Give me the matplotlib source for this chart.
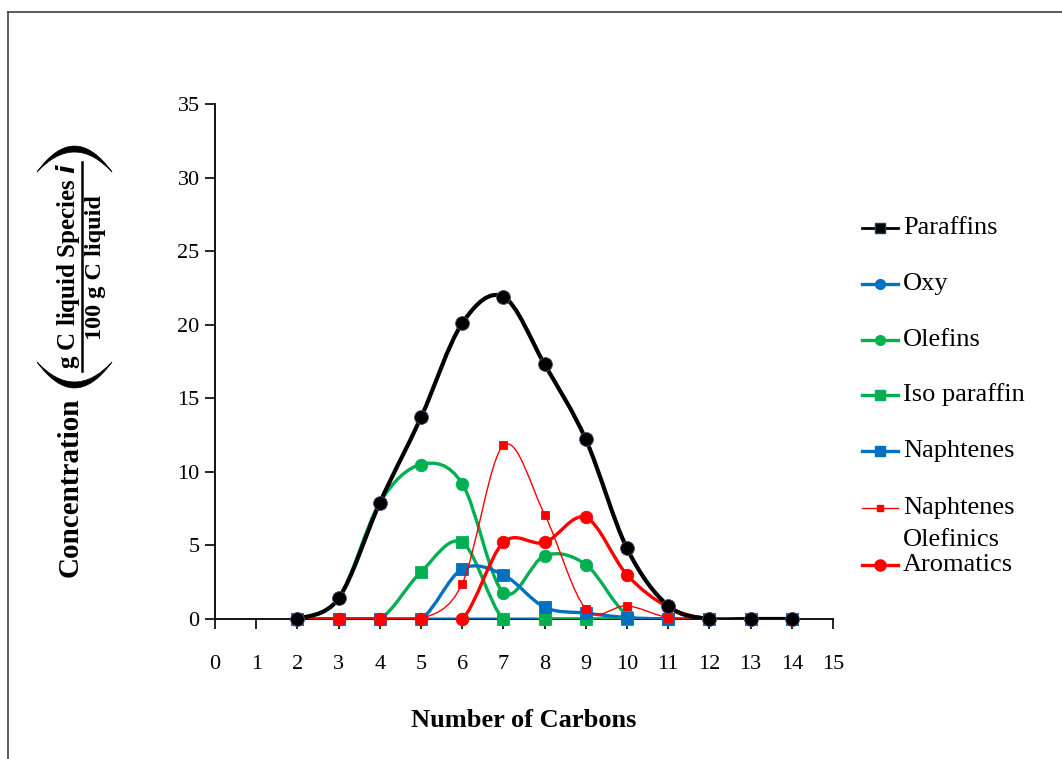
import numpy as np
import matplotlib
matplotlib.use("Agg")
import matplotlib.pyplot as plt
from matplotlib.path import Path
from matplotlib.patches import PathPatch
from matplotlib.lines import Line2D

plt.rcParams["font.family"] = ["Liberation Serif", "DejaVu Serif"]

# carbon number
carbons = [2, 3, 4, 5, 6, 7, 8, 9, 10, 11, 12, 13, 14]

paraffins = [0, 1.4, 7.9, 13.7, 20.1, 21.9, 17.3, 12.2, 4.8, 0.9, 0, 0, 0]
oxy = [0, 0, 0, 0, 0, 0, 0, 0, 0, 0, 0, 0, 0]
olefins = [0, 1.4, 7.9, 10.5, 9.2, 1.8, 4.3, 3.7, 0.3, 0, 0, 0, 0]
isoparaffin = [0, 0, 0, 3.2, 5.2, 0, 0, 0, 0, 0, 0, 0, 0]
naphtenes = [0, 0, 0, 0, 3.4, 3.0, 0.8, 0.4, 0.1, 0, 0, 0, 0]
naph_olefinics = [0, 0, 0, 0, 2.4, 11.8, 7.1, 0.7, 0.9, 0.1, 0, 0, 0]
aromatics = [0, 0, 0, 0, 0, 5.2, 5.2, 6.9, 3.0, 0.8, 0, 0, 0]

x_ticks = list(range(0, 16))
y_ticks = [0, 5, 10, 15, 20, 25, 30, 35]

BLACK = "#000000"
GREEN = "#00B050"
BLUE = "#0070C0"
RED = "#FF0000"


def smooth_path(xs, ys):
    # excel style smoothed line: catmull-rom segments as cubic beziers
    pts = np.column_stack([xs, ys]).astype(float)
    n = len(pts)
    verts = [pts[0]]
    codes = [Path.MOVETO]
    for i in range(n - 1):
        p0 = pts[max(i - 1, 0)]
        p1 = pts[i]
        p2 = pts[i + 1]
        p3 = pts[min(i + 2, n - 1)]
        c1 = p1 + (p2 - p0) / 6.0
        c2 = p2 - (p3 - p1) / 6.0
        verts += [c1, c2, p2]
        codes += [Path.CURVE4] * 3
    return Path(verts, codes)


fig = plt.figure(figsize=(10.62, 7.59), dpi=100)
ax = fig.add_axes([215 / 1062, 1 - 619 / 759, 618 / 1062, 515 / 759])

series = [
    ("Oxy", oxy, BLUE, "o", 9, 2.2, "#9BBB59"),
    ("Olefins", olefins, GREEN, "o", 9, 2.4, GREEN),
    ("Iso paraffin", isoparaffin, GREEN, "s", 8.5, 2.4, GREEN),
    ("Naphtenes", naphtenes, BLUE, "s", 8.5, 2.4, BLUE),
    ("Naphtenes\nOlefinics", naph_olefinics, RED, "s", 6, 1.0, RED),
    ("Aromatics", aromatics, RED, "o", 9, 2.4, RED),
    ("Paraffins", paraffins, BLACK, "o", 10, 3.0, "#5F497A"),
]

for z, (name, vals, col, mk, ms, lw, ec) in enumerate(series):
    ax.add_patch(PathPatch(smooth_path(carbons, vals), fill=False, edgecolor=col,
                           lw=lw, zorder=3 + z, capstyle="round", joinstyle="round"))
    ax.plot(carbons, vals, linestyle="none", marker=mk, ms=ms, color=col,
            mec=ec, mew=0.6, zorder=3.5 + z, clip_on=False)

ax.set_xlim(0, 15)
ax.set_ylim(0, 35)
ax.set_xticks(x_ticks)
ax.set_yticks(y_ticks)
ax.tick_params(direction="out", length=7, width=1.2, labelsize=16)
ax.tick_params(axis="x", pad=19)
ax.tick_params(axis="y", pad=4)
for s in ["top", "right"]:
    ax.spines[s].set_visible(False)
ax.spines["left"].set_linewidth(1.3)
ax.spines["bottom"].set_linewidth(1.3)
ax.set_xlabel("Number of Carbons", fontsize=19, fontweight="bold", labelpad=25)

# y label: Concentration (fraction)
fig.text(70 / 1062, 1 - 487 / 759, "Concentration", rotation=90, fontsize=21,
         fontweight="bold", ha="center", va="center")
fig.text(68 / 1062, 1 - 266 / 759, r"g C liquid Species $\mathbfit{i}$", rotation=90,
         fontsize=18, fontweight="bold", ha="center", va="center")
fig.text(96 / 1062, 1 - 268 / 759, "100 g C liquid", rotation=90, fontsize=17.5,
         fontweight="bold", ha="center", va="center")
fig.add_artist(Line2D([82 / 1062, 82 / 1062], [1 - 162 / 759, 1 - 371 / 759],
                      transform=fig.transFigure, color="black", lw=1.8))


def arc_patch(y_end, y_out, y_in):
    # crescent shaped big parenthesis, in figure pixels
    x0, x1, xm = 37, 112, 74.5
    verts = [(x0, y_end), (xm, 2 * y_out - y_end), (x1, y_end),
             (xm, 2 * y_in - y_end), (x0, y_end), (x0, y_end)]
    codes = [Path.MOVETO, Path.CURVE3, Path.CURVE3, Path.CURVE3, Path.CURVE3,
             Path.CLOSEPOLY]
    verts = [(vx / 1062, 1 - vy / 759) for vx, vy in verts]
    return PathPatch(Path(verts, codes), transform=fig.transFigure,
                     facecolor="black", edgecolor="black", lw=0.5)


fig.add_artist(arc_patch(172, 146, 152))
fig.add_artist(arc_patch(362, 388, 382))

# legend, drawn by hand to follow the original layout
legend_rows = [
    ("Paraffins", BLACK, "s", 7, 2.0, 228),
    ("Oxy", BLUE, "o", 7, 2.4, 284),
    ("Olefins", GREEN, "o", 7, 2.4, 340),
    ("Iso paraffin", GREEN, "s", 7, 2.4, 395),
    ("Naphtenes", BLUE, "s", 7, 2.4, 451),
    ("Naphtenes", RED, "s", 5, 1.0, 508),
    ("Aromatics", RED, "o", 8, 2.4, 565),
]
for name, col, mk, ms, lw, ypx in legend_rows:
    yf = 1 - ypx / 759
    fig.add_artist(Line2D([862 / 1062, 898 / 1062], [yf, yf], transform=fig.transFigure,
                          color=col, lw=lw))
    fig.add_artist(Line2D([880 / 1062], [yf], transform=fig.transFigure, color=col,
                          marker=mk, ms=ms, mec="#1F3864" if col == BLACK else col))
    fig.text(903 / 1062, yf, name, fontsize=19, ha="left", va="center")
fig.text(903 / 1062, 1 - 540 / 759, "Olefinics", fontsize=19, ha="left", va="center")

# outer frame lines (top and left only visible)
fig.add_artist(Line2D([8 / 1062, 1.0], [1 - 12 / 759, 1 - 12 / 759],
                      transform=fig.transFigure, color="#404040", lw=1.2))
fig.add_artist(Line2D([8 / 1062, 8 / 1062], [1 - 12 / 759, 0],
                      transform=fig.transFigure, color="#404040", lw=1.2))

fig.savefig("out.png", dpi=100)
